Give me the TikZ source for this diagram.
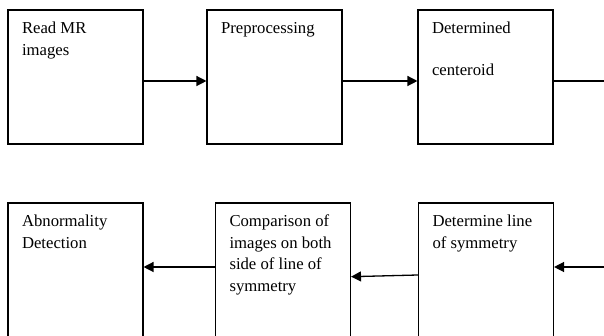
\documentclass[tikz,border=0pt]{standalone}
\usepackage{fontspec}
\setmainfont{Liberation Serif}
\usepackage{tikz}
\usetikzlibrary{arrows.meta}
\usetikzlibrary{positioning}

\newcommand{\boxtext}[1]{\parbox[c][134pt][t]{135pt}{\leftskip=14pt\rightskip=0pt plus 1fil\parindent=0pt\baselineskip=21.5pt\vspace*{12pt}#1}}

\begin{document}
\begin{tikzpicture}[x=1pt,y=1pt]
  \tikzset{stage/.style = {shape=rectangle,draw,line width=1.1pt,minimum width=135pt,minimum height=134pt,inner sep=0pt,font=\fontsize{16.7}{21.5}\selectfont}}
  \tikzset{edge/.style = {-{Triangle[length=10pt,width=10pt]},line width=1.3pt}}
  \useasboundingbox (0,0) rectangle (604,336);

	\node[stage] (read) at (75.5,259) {\boxtext{Read MR\\images}};
	\node[stage] (prep) at (274.5,259) {\boxtext{Preprocessing}};
	\node[stage] (cent) at (485.5,259) {\boxtext{Determined\\[20pt]centeroid}};
	\node[stage] (abn) at (75.5,66) {\boxtext{Abnormality\\Detection}};
	\node[stage] (comp) at (283,66) {\boxtext{Comparison of\\images on both\\side of line of\\symmetry}};
	\node[stage] (sym) at (486,66) {\boxtext{Determine line\\of symmetry}};
	\coordinate (outR) at (604,255);
	\coordinate (inR) at (604,69);

    \foreach \from/\to in {read/prep, prep/cent}
    \draw[edge] ([yshift=-4pt]\from.east) -- ([yshift=-4pt]\to.west);

    \draw[line width=1.3pt] ([yshift=-4pt]cent.east) -- (outR);

    \draw[edge] (inR) -- ([yshift=3pt]sym.east);
    \draw[edge] ([yshift=-5pt]sym.west) -- ([yshift=-6.7pt]comp.east);
    \draw[edge] ([yshift=3pt]comp.west) -- ([yshift=3pt]abn.east);

\end{tikzpicture}
\end{document}
